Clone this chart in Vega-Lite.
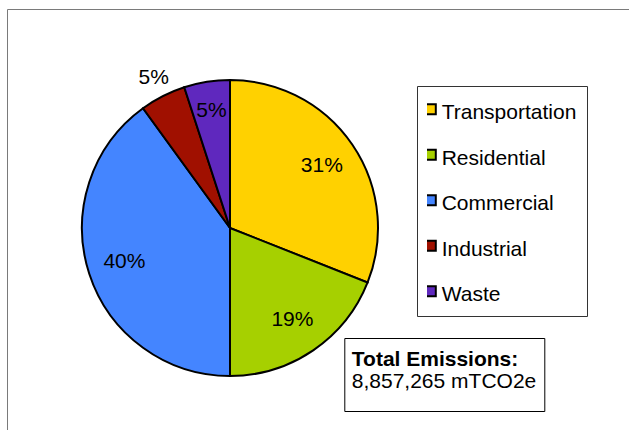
{
  "$schema": "https://vega.github.io/schema/vega-lite/v6.json",
  "width": 296,
  "height": 296,
  "autosize": {"type": "none"},
  "padding": {"left": 82, "top": 80, "right": 251, "bottom": 54},
  "background": "white",
  "config": {"view": {"stroke": null}, "font": "Liberation Sans"},
  "data": {
    "values": [
      {"sector": "Transportation", "share": 0.31},
      {"sector": "Residential", "share": 0.19},
      {"sector": "Commercial", "share": 0.40},
      {"sector": "Industrial", "share": 0.05},
      {"sector": "Waste", "share": 0.05}
    ]
  },
  "transform": [{"window": [{"op": "row_number", "as": "rank"}]}],
  "layer": [
    {
      "mark": {"type": "arc", "stroke": "black", "strokeWidth": 2, "outerRadius": 148},
      "encoding": {
        "theta": {"field": "share", "type": "quantitative", "stack": true},
        "order": {"field": "rank", "type": "quantitative"},
        "fill": {
          "field": "sector",
          "type": "nominal",
          "scale": {
            "domain": ["Transportation", "Residential", "Commercial", "Industrial", "Waste"],
            "range": ["#FFD100", "#A6D000", "#4485FF", "#A01000", "#5F28BE"]
          },
          "legend": {
            "title": null,
            "orient": "none",
            "legendX": 335,
            "legendY": 6,
            "padding": 10,
            "clipHeight": 26.4,
            "strokeColor": "#333333",
            "fillColor": "white",
            "symbolType": "square",
            "symbolSize": 100,
            "symbolStrokeColor": "black",
            "symbolStrokeWidth": 2,
            "symbolOffset": -6.7,
            "labelOffset": 0.4,
            "labelFontSize": 21,
            "labelFont": "Liberation Sans",
            "labelColor": "black",
            "labelLimit": 400,
            "rowPadding": 17.5,
            "encode": {"labels": {"update": {"dy": {"value": 4.1}}}}
          }
        }
      }
    },
    {
      "mark": {"type": "text", "fontSize": 21, "font": "Liberation Sans", "color": "black", "radius": 111},
      "encoding": {
        "theta": {"field": "share", "type": "quantitative", "stack": true},
        "order": {"field": "rank", "type": "quantitative"},
        "detail": {"field": "sector", "type": "nominal"},
        "text": {"field": "share", "type": "quantitative", "format": ".0%"},
        "opacity": {
          "condition": {"test": "datum.sector !== 'Industrial' && datum.sector !== 'Waste'", "value": 1},
          "value": 0
        }
      }
    },
    {
      "mark": {"type": "text", "fontSize": 21, "font": "Liberation Sans", "color": "black", "radius": 118},
      "encoding": {
        "theta": {"field": "share", "type": "quantitative", "stack": true},
        "order": {"field": "rank", "type": "quantitative"},
        "detail": {"field": "sector", "type": "nominal"},
        "text": {"field": "share", "type": "quantitative", "format": ".0%"},
        "opacity": {"condition": {"test": "datum.sector === 'Waste'", "value": 1}, "value": 0}
      }
    },
    {
      "mark": {"type": "text", "fontSize": 21, "font": "Liberation Sans", "color": "black", "radius": 168},
      "encoding": {
        "theta": {"field": "share", "type": "quantitative", "stack": true},
        "order": {"field": "rank", "type": "quantitative"},
        "detail": {"field": "sector", "type": "nominal"},
        "text": {"field": "share", "type": "quantitative", "format": ".0%"},
        "opacity": {"condition": {"test": "datum.sector === 'Industrial'", "value": 1}, "value": 0}
      }
    },
    {
      "data": {"values": [{"total": "8,857,265 mTCO2e"}]},
      "mark": {"type": "point", "opacity": 0},
      "encoding": {
        "shape": {
          "field": "total",
          "type": "nominal",
          "scale": {"range": ["M0,0L0.001,0"]},
          "legend": {
            "title": "Total Emissions:",
            "orient": "none",
            "legendX": 262.3,
            "legendY": 258,
            "padding": 7.5,
            "clipHeight": 42,
            "strokeColor": "black",
            "fillColor": "white",
            "titleFont": "Liberation Sans",
            "titleFontSize": 21,
            "titleFontWeight": "bold",
            "titleColor": "black",
            "titleBaseline": "line-top",
            "titleLineHeight": 27,
            "titlePadding": -5.5,
            "titleLimit": 400,
            "symbolSize": 56356,
            "symbolStrokeWidth": 0,
            "symbolOpacity": 0,
            "symbolOffset": 0,
            "labelOffset": -238,
            "labelFont": "Liberation Sans",
            "labelFontSize": 21,
            "labelColor": "black",
            "labelLimit": 400,
            "encode": {
              "legend": {"update": {"strokeWidth": {"value": 2}}},
              "entries": {"update": {"width": {"value": 237.4}}}
            }
          }
        },
        "size": {
          "datum": 1,
          "type": "quantitative",
          "scale": {"domain": [0, 1], "range": [0, 0]},
          "legend": {
            "title": null,
            "orient": "none",
            "legendX": -75,
            "legendY": -71,
            "padding": 320,
            "values": [1],
            "labelExpr": "''",
            "symbolOpacity": 0,
            "strokeColor": "#7a7a7a",
            "encode": {"legend": {"update": {"strokeWidth": {"value": 2}}}}
          }
        }
      }
    }
  ]
}
